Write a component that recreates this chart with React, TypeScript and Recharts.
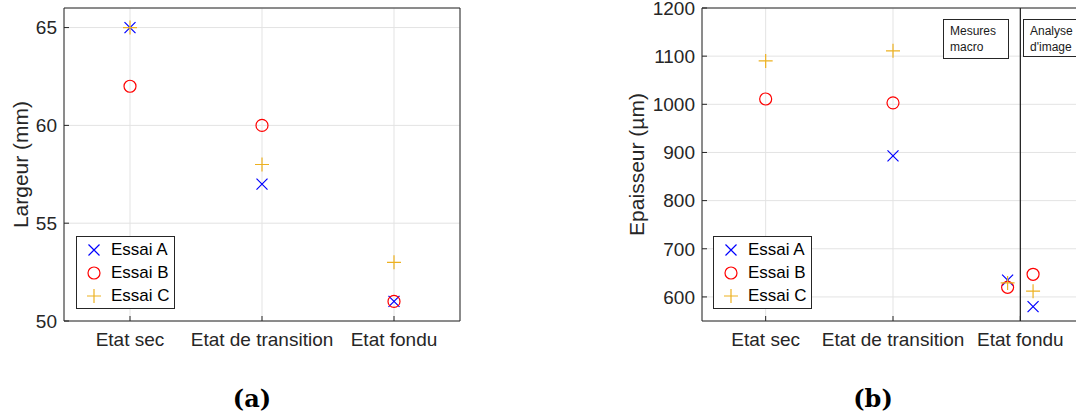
import { ScatterChart, Scatter, XAxis, YAxis, CartesianGrid, ReferenceLine, Legend, Label } from 'recharts'

const categories = ['Etat sec', 'Etat de transition', 'Etat fondu']
const seriesNames = ['Essai A', 'Essai B', 'Essai C']
const COLORS = ['#0000ff', '#ff0000', '#edb120']

// (a) largeur (mm), une valeur par état
const largeurX = [1, 2, 3]
const largeurA = [65, 57, 51]
const largeurB = [62, 60, 51]
const largeurC = [65, 58, 53]
const largeurTicks = [50, 55, 60, 65]

// (b) épaisseur (µm) : sec, transition, fondu (mesures macro), fondu (analyse d'image)
const epaisseurX = [1, 2, 2.9, 3.1]
const epaisseurA = [null, 893, 635, 580]
const epaisseurB = [1011, 1003, 620, 647]
const epaisseurC = [1090, 1111, 629, 612]
const epaisseurTicks = [600, 700, 800, 900, 1000, 1100, 1200]

const AXIS = '#262626'
const GRID = '#e3e3e3'

type Pt = { x: number; y: number }

const toPoints = (xs: number[], ys: Array<number | null>): Pt[] =>
  xs.map((x, i) => ({ x, y: ys[i] as number })).filter(p => p.y != null)

function Marker({ kind, cx, cy }: { kind: number; cx: number; cy: number }) {
  const c = COLORS[kind]
  if (kind === 0) {
    const s = 5.5
    return <path d={`M${cx - s},${cy - s}L${cx + s},${cy + s}M${cx - s},${cy + s}L${cx + s},${cy - s}`} stroke={c} strokeWidth={1.2} fill="none" />
  }
  if (kind === 1) return <circle cx={cx} cy={cy} r={6} stroke={c} strokeWidth={1.2} fill="none" />
  const s = 7
  return <path d={`M${cx - s},${cy}L${cx + s},${cy}M${cx},${cy - s}L${cx},${cy + s}`} stroke={c} strokeWidth={1.2} fill="none" />
}

const renderLegend = () => (
  <div style={{ border: `1px solid ${AXIS}`, background: '#fff', padding: '1px 4px 1px 0', fontSize: 17, color: '#000', lineHeight: 1 }}>
    {seriesNames.map((n, i) => (
      <div key={n} style={{ display: 'flex', alignItems: 'center', height: 23 }}>
        <svg width={34} height={20} style={{ display: 'block' }}>
          <Marker kind={i} cx={17} cy={10} />
        </svg>
        <span>{n}</span>
      </div>
    ))}
  </div>
)

interface PanelProps {
  width: number
  yAxisWidth: number
  marginRight: number
  domain: [number, number]
  ticks: number[]
  series: Pt[][]
  yLabel: string
  labelOffset: number
  legendLeft: number
  divider?: number
}

function Panel({ width, yAxisWidth, marginRight, domain, ticks, series, yLabel, labelOffset, legendLeft, divider }: PanelProps) {
  const tickStyle = { fill: AXIS, fontSize: 19 }
  return (
    <ScatterChart width={width} height={360} margin={{ top: 7, right: marginRight, bottom: 9, left: 0 }}>
      <CartesianGrid xAxisId="b" yAxisId="l" stroke={GRID} />
      <XAxis
        xAxisId="b" type="number" dataKey="x" domain={[0.5, 3.5]} ticks={[1, 2, 3]} interval={0}
        tickFormatter={(v: number) => categories[v - 1]} height={30} tickSize={-5} tickMargin={17}
        stroke={AXIS} tick={tickStyle} allowDataOverflow
      />
      <XAxis xAxisId="t" orientation="top" type="number" domain={[0.5, 3.5]} ticks={[1, 2, 3]} height={1} tick={false} tickSize={-5} stroke={AXIS} allowDataOverflow />
      <YAxis
        yAxisId="l" type="number" dataKey="y" domain={domain} ticks={ticks} interval={0}
        width={yAxisWidth} tickSize={-5} tickMargin={12} stroke={AXIS} tick={tickStyle} allowDataOverflow
      >
        <Label value={yLabel} angle={-90} position="insideLeft" offset={labelOffset} style={{ textAnchor: 'middle', fontSize: 21, fill: AXIS }} />
      </YAxis>
      <YAxis yAxisId="r" orientation="right" type="number" domain={domain} ticks={ticks} width={1} tick={false} tickSize={-5} stroke={AXIS} allowDataOverflow />
      {divider != null && <ReferenceLine xAxisId="b" yAxisId="l" x={divider} stroke="#1a1a1a" strokeWidth={1.2} />}
      {series.map((pts, i) => (
        <Scatter
          key={seriesNames[i]} name={seriesNames[i]} xAxisId="b" yAxisId="l" data={pts}
          shape={(p: any) => <Marker kind={i} cx={p.cx} cy={p.cy} />} isAnimationActive={false}
        />
      ))}
      <Legend layout="horizontal" verticalAlign="middle" align="center" content={renderLegend} wrapperStyle={{ left: legendLeft, top: 236, width: 'auto' }} />
    </ScatterChart>
  )
}

const noteStyle = {
  position: 'absolute' as const, top: 19, height: 37, width: 58, border: `1px solid ${AXIS}`, background: '#fff',
  fontSize: 12, lineHeight: '16px', padding: '3px 0 0 6px', color: '#1a1a1a', boxSizing: 'content-box' as const,
}

const captionStyle = {
  position: 'absolute' as const, top: 384, width: 100, height: 30, lineHeight: '30px', textAlign: 'center' as const,
  fontFamily: '"DejaVu Serif", serif', fontWeight: 'bold' as const, fontSize: 24, color: '#000',
}

export default function App() {
  return (
    <div style={{ position: 'absolute', left: 0, top: 0, width: 1076, height: 418, overflow: 'hidden', background: '#fff', fontFamily: '"Liberation Sans", Arial, sans-serif' }}>
      <div style={{ position: 'absolute', left: 0, top: 0 }}>
        <Panel
          width={480} yAxisWidth={64} marginRight={19} domain={[50, 66]} ticks={largeurTicks}
          series={[toPoints(largeurX, largeurA), toPoints(largeurX, largeurB), toPoints(largeurX, largeurC)]}
          yLabel="Largeur (mm)" labelOffset={21} legendLeft={76}
        />
      </div>
      <div style={{ position: 'absolute', left: 620, top: 0 }}>
        <Panel
          width={480} yAxisWidth={82} marginRight={15} domain={[550, 1200]} ticks={epaisseurTicks}
          series={[toPoints(epaisseurX, epaisseurA), toPoints(epaisseurX, epaisseurB), toPoints(epaisseurX, epaisseurC)]}
          yLabel="Epaisseur (µm)" labelOffset={17} legendLeft={93} divider={3}
        />
      </div>
      <div style={{ ...noteStyle, left: 943, height: 35 }}>Mesures<br />macro</div>
      <div style={{ ...noteStyle, left: 1023, height: 33, paddingLeft: 6 }}>Analyse<br />d'image</div>
      <div style={{ ...captionStyle, left: 202 }}>(a)</div>
      <div style={{ ...captionStyle, left: 823 }}>(b)</div>
    </div>
  )
}
